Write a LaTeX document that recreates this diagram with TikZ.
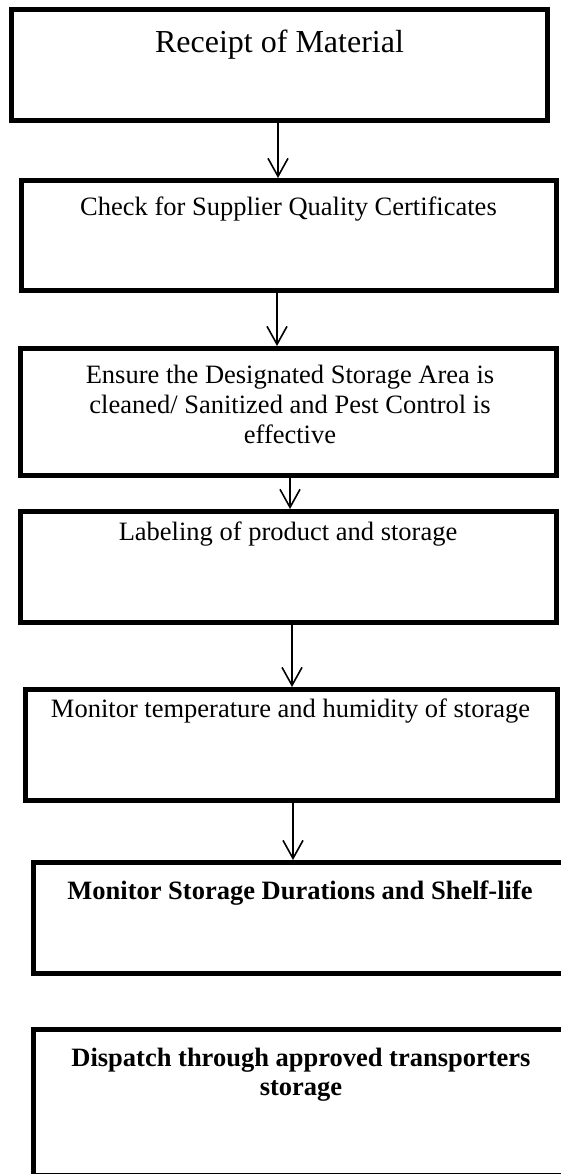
\documentclass[tikz,border=0pt]{standalone}
\usepackage{fontspec}
\setmainfont{Liberation Serif}
\usetikzlibrary{arrows.meta,calc}
\begin{document}
\begin{tikzpicture}[x=1pt,y=-1pt,
  stepbox/.style={draw=black, line width=5pt, rectangle, inner sep=0pt},
  txt/.style={inner sep=0pt, anchor=base, font=\fontsize{26.5}{30}\selectfont},
  bigtxt/.style={inner sep=0pt, anchor=base, font=\fontsize{32}{36}\selectfont},
  boldtxt/.style={txt, font=\fontsize{26.5}{30}\selectfont\bfseries},
  flow/.style={line width=1.6pt, -{Straight Barb[length=18pt,width=20pt]}}]
\path[use as bounding box, fill=white] (0,0) rectangle (561,1174);
\clip (0,0) rectangle (561,1174);

% process boxes (centre-line geometry)
\node[stepbox, minimum width=536pt, minimum height=111pt] (b1) at (279.5,65) {};
\node[stepbox, minimum width=535pt, minimum height=110pt] (b2) at (289,235.5) {};
\node[stepbox, minimum width=536pt, minimum height=127pt] (b3) at (288.5,412) {};
\node[stepbox, minimum width=536pt, minimum height=111pt] (b4) at (288.5,567) {};
\node[stepbox, minimum width=532pt, minimum height=111pt] (b5) at (291.5,745) {};
\node[stepbox, minimum width=535pt, minimum height=111pt] (b6) at (301,918) {};
\node[stepbox, minimum width=535pt, minimum height=146pt] (b7) at (301,1102.5) {};

% box texts
\node[bigtxt] (t1) at (279.5,53) {Receipt of Material};
\node[txt] (t2) at (288.5,216) {Check for Supplier Quality Certificates};
\node[txt] (t3a) at (290,383) {Ensure the Designated Storage Area is};
\node[txt] (t3b) at (290,413) {cleaned/ Sanitized and Pest Control is};
\node[txt] (t3c) at (290,443) {effective};
\node[txt] (t4) at (288,540) {Labeling of product and storage};
\node[txt] (t5) at (290.5,717) {Monitor temperature and humidity of storage};
\node[boldtxt] (t6) at (300,899) {Monitor Storage Durations and Shelf-life};
\node[boldtxt] (t7a) at (301,1066) {Dispatch through approved transporters};
\node[boldtxt] (t7b) at (301,1095) {storage};

% connectors
\draw[flow] ([xshift=-1.5pt]b1.south) -- ([xshift=-11pt]b2.north);
\draw[flow] ([xshift=-12pt]b2.south) -- ([xshift=-11.5pt]b3.north);
\draw[flow] ([xshift=1.5pt]b3.south) -- ([xshift=1.5pt]b4.north);
\draw[flow] ([xshift=3.5pt]b4.south) -- ([xshift=0.5pt]b5.north);
\draw[flow] ([xshift=1.5pt]b5.south) -- ([xshift=-8pt]b6.north);
\end{tikzpicture}
\end{document}
